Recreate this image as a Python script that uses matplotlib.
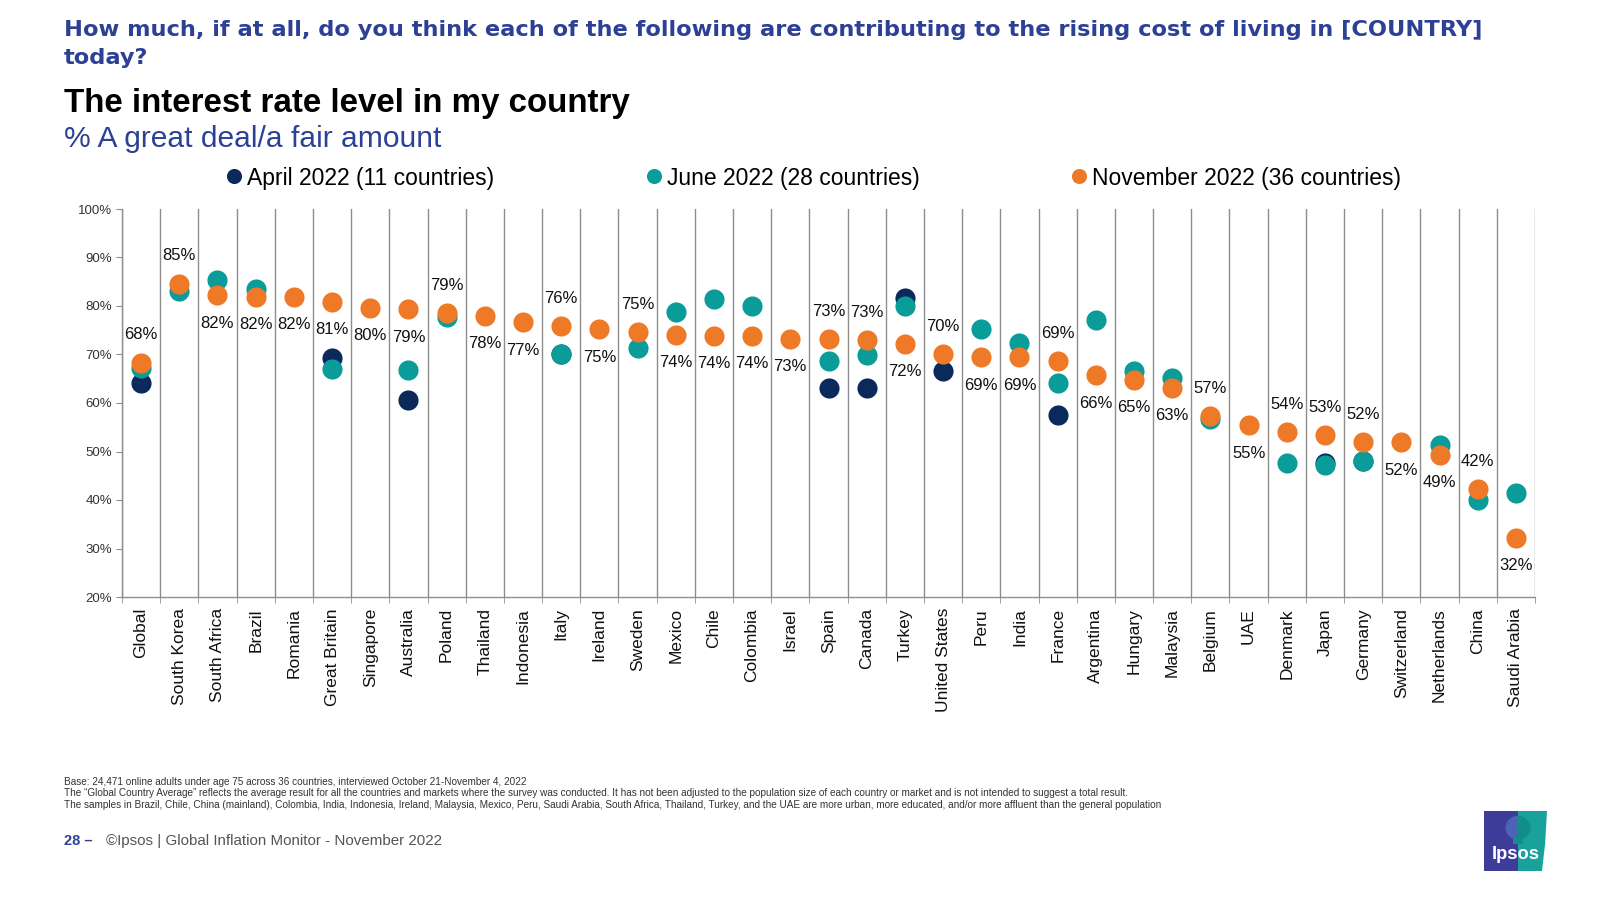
import matplotlib
matplotlib.use("Agg")
import matplotlib.pyplot as plt
import numpy as np
from matplotlib.patches import Rectangle, Polygon, Wedge

plt.rcParams['font.family'] = ['Liberation Sans', 'DejaVu Sans']

nan = np.nan

countries = ["Global", "South Korea", "South Africa", "Brazil", "Romania", "Great Britain",
             "Singapore", "Australia", "Poland", "Thailand", "Indonesia", "Italy", "Ireland",
             "Sweden", "Mexico", "Chile", "Colombia", "Israel", "Spain", "Canada", "Turkey",
             "United States", "Peru", "India", "France", "Argentina", "Hungary", "Malaysia",
             "Belgium", "UAE", "Denmark", "Japan", "Germany", "Switzerland", "Netherlands",
             "China", "Saudi Arabia"]

# % a great deal / a fair amount
april_2022 = [64.1, nan, nan, nan, nan, 69.3, nan, 60.6, nan, nan, nan, 70.0, nan, nan, nan,
              nan, nan, nan, 63.0, 63.0, 81.6, 66.5, nan, nan, 57.5, nan, nan, nan, nan, nan,
              nan, 47.7, 48.1, nan, nan, nan, nan]
june_2022 = [67.2, 83.0, 85.4, 83.5, nan, 67.1, nan, 66.9, 77.7, nan, nan, 70.0, nan, 71.3,
             78.8, 81.5, 79.9, nan, 68.6, 69.8, 80.1, nan, 75.3, 72.4, 64.1, 77.2, 66.7, 65.2,
             56.6, nan, 47.6, 47.2, 48.1, nan, 51.4, 39.9, 41.4]
nov_2022 = [68.3, 84.6, 82.2, 81.9, 81.9, 80.9, 79.6, 79.3, 78.6, 78.0, 76.6, 75.9, 75.2, 74.6,
            74.1, 73.9, 73.9, 73.2, 73.1, 72.9, 72.2, 70.0, 69.4, 69.4, 68.6, 65.7, 64.7, 63.1,
            57.3, 55.4, 54.0, 53.4, 52.0, 51.9, 49.3, 42.3, 32.2]

series_names = ["April 2022 (11 countries)", "June 2022 (28 countries)",
                "November 2022 (36 countries)"]

# countries whose November label sits above the dot (the rest go below)
label_above = {"Global", "South Korea", "Poland", "Italy", "Sweden", "Spain", "Canada",
               "United States", "France", "Belgium", "Denmark", "Japan", "Germany", "China"}

NAVY = "#0B2A5B"
TEAL = "#0A9C99"
ORANGE = "#EE7A27"
BLUE = "#2C4196"
GRID = "#8E8E8E"

fig = plt.figure(figsize=(16, 9), dpi=100)
ax = fig.add_axes([122 / 1600, 1 - 597 / 900, (1535 - 122) / 1600, (597 - 209) / 900])

x = np.arange(len(countries))
for vals, col, name in zip([april_2022, june_2022, nov_2022], [NAVY, TEAL, ORANGE], series_names):
    ax.plot(x, vals, "o", color=col, ms=14.5, mew=0, label=name, zorder=3)

for i, v in enumerate(nov_2022):
    dy = 20 if countries[i] in label_above else -20
    ax.annotate(f"{v:.0f}%", (i, v), xytext=(0, dy), textcoords="offset points",
                ha="center", va="center", fontsize=12, color="#111111", zorder=4)

ax.set_xlim(-0.5, len(countries) - 0.5)
ax.set_ylim(20, 100)
ax.set_yticks(range(20, 101, 10))
ax.set_yticklabels([f"{v}%" for v in range(20, 101, 10)])
ax.set_xticks(x)
ax.set_xticklabels(countries, rotation=90, fontsize=12.5, color="#111111")
ax.set_xticks(np.arange(-0.5, len(countries)), minor=True)
ax.grid(which="minor", axis="x", color=GRID, lw=1.0)
ax.set_axisbelow(True)

ax.tick_params(axis="x", which="major", length=0, pad=8)
ax.tick_params(axis="x", which="minor", length=4, color=GRID, direction="out")
ax.tick_params(axis="y", length=4, color=GRID, pad=3, labelsize=9.5, labelcolor="#333333")
for s in ["top", "right"]:
    ax.spines[s].set_visible(False)
for s in ["left", "bottom"]:
    ax.spines[s].set_color(GRID)
    ax.spines[s].set_linewidth(1.0)

ax.legend(loc="center", bbox_to_anchor=(225 / 1600, 1 - 178 / 900 - 0.02, 1176 / 1600, 0.04),
          bbox_transform=fig.transFigure, ncol=3, mode="expand", frameon=False,
          fontsize=16.5, handlelength=0.8, handletextpad=0.15, borderpad=0,
          borderaxespad=0, markerscale=0.75)

# header
q_font = dict(fontsize=16.2, fontweight="bold", color=BLUE, va="baseline", family="DejaVu Sans")
fig.text(64 / 1600, 1 - 36 / 900,
         "How much, if at all, do you think each of the following are contributing to the "
         "rising cost of living in [COUNTRY]", **q_font)
fig.text(64 / 1600, 1 - 64 / 900, "today?", **q_font)
fig.text(64 / 1600, 1 - 112 / 900, "The interest rate level in my country", fontsize=23.9,
         fontweight="bold", color="black", va="baseline")
fig.text(64 / 1600, 1 - 147 / 900, "% A great deal/a fair amount", fontsize=21.6, color=BLUE,
         va="baseline")

# footnotes
notes = [
    "Base: 24,471 online adults under age 75 across 36 countries, interviewed October 21-November 4, 2022",
    "The \u201cGlobal Country Average\u201d reflects the average result for all the countries and markets "
    "where the survey was conducted. It has not been adjusted to the population size of each country "
    "or market and is not intended to suggest a total result.",
    "The samples in Brazil, Chile, China (mainland), Colombia, India, Indonesia, Ireland, Malaysia, "
    "Mexico, Peru, Saudi Arabia, South Africa, Thailand, Turkey, and the UAE are more urban, more "
    "educated, and/or more affluent than the general population",
]
for k, line in enumerate(notes):
    fig.text(64 / 1600, 1 - (785 + 11.5 * k) / 900, line, fontsize=7.2, color="#333333",
             va="baseline")

fig.text(64 / 1600, 1 - 845 / 900, "28 \u2013", fontsize=10.5, fontweight="bold", color=BLUE,
         va="baseline")
fig.text(106 / 1600, 1 - 845 / 900, "\u00a9Ipsos | Global Inflation Monitor - November 2022",
         fontsize=10.9, color="#555555", va="baseline")

# Ipsos logo
lax = fig.add_axes([1484 / 1600, 1 - 871 / 900, 63 / 1600, 60 / 900])
lax.set_xlim(0, 1)
lax.set_ylim(0, 1)
lax.axis("off")
lax.add_patch(Rectangle((0, 0), 0.54, 1, color="#3D3C98", lw=0))
lax.add_patch(Polygon([(0.54, 0), (0.92, 0), (0.97, 0.45), (1.0, 1), (0.54, 1)], closed=True,
                      color="#18A29B", lw=0))
lax.add_patch(Wedge((0.54, 0.72), 0.2, 90, 270, color="#4C63B8", lw=0))
lax.add_patch(Wedge((0.54, 0.72), 0.2, -90, 90, color="#128E8A", lw=0))
lax.add_patch(Rectangle((0.46, 0.45), 0.16, 0.1, color="#128E8A", lw=0))
lax.text(0.5, 0.28, "Ipsos", color="white", fontsize=13.2, fontweight="bold", ha="center",
         va="center")

fig.savefig("out.png", dpi=100)
